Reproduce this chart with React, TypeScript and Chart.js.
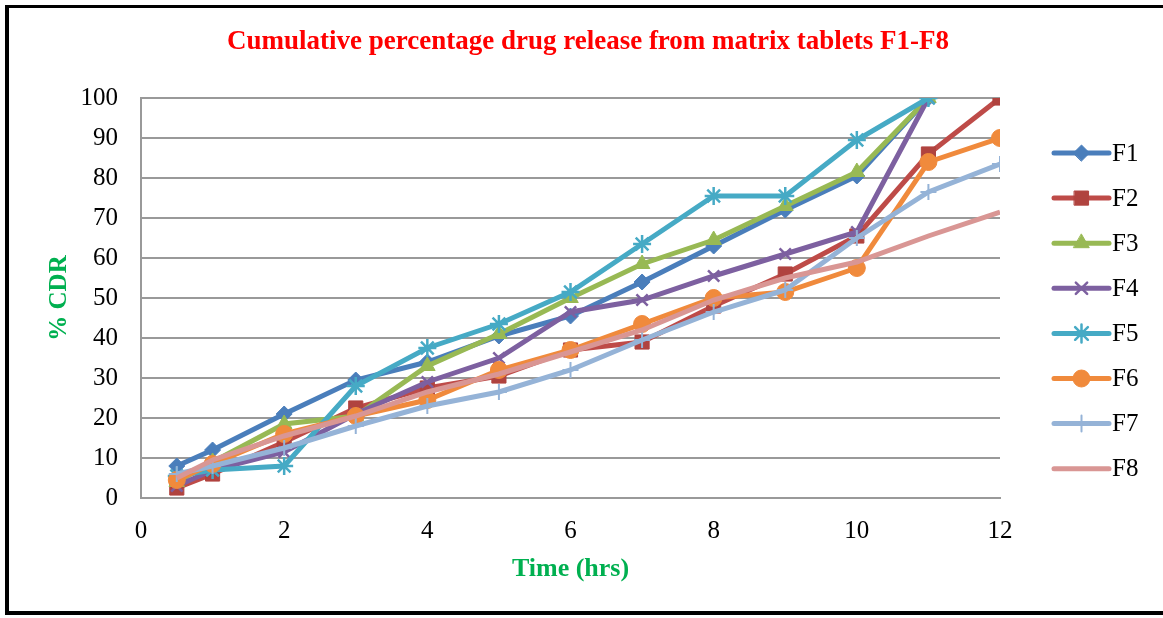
import React, { useEffect, useRef } from "react";
import { Chart, registerables } from "chart.js";
import { drawPoint } from "chart.js/helpers";

Chart.register(...registerables);

// Sampling times (hours)
const times = [0.5, 1, 2, 3, 4, 5, 6, 7, 8, 9, 10, 11, 12];

// Cumulative % drug release per formulation
const f1 = [8, 12, 21, 29.5, 34, 40.5, 45.5, 54, 63, 72, 80.5, 100];
const f2 = [2.5, 6, 14, 22.5, 27.5, 30.5, 37, 39, 48, 56, 65.5, 86, 100];
const f3 = [4, 9, 18.5, 20.5, 33, 41, 50, 58.5, 64.5, 73, 81.5, 100];
const f4 = [3, 7, 11.5, 21, 29, 35, 46.5, 49.5, 55.5, 61, 66.5, 100];
const f5 = [5.5, 7, 8, 28, 37.5, 43.5, 51.5, 63.5, 75.5, 75.5, 89.5, 100];
const f6 = [4.5, 8.5, 16, 20.5, 24.5, 32, 37, 43.5, 50, 51.5, 57.5, 84, 90];
const f7 = [6, 8, 12.5, 18, 23, 26.5, 32, 39.5, 46.5, 52, 65, 76.5, 83.5];
const f8 = [5, 9.5, 15.5, 20.5, 26.5, 31, 36.5, 42, 49.5, 55, 59, 65.5, 71.5];

const seriesNames = ["F1", "F2", "F3", "F4", "F5", "F6", "F7", "F8"];
const seriesValues = [f1, f2, f3, f4, f5, f6, f7, f8];

const seriesColors = ["#4A7EBB", "#BE4B48", "#98B954", "#7D60A0", "#46AAC5", "#F08A3C", "#95B3D7", "#D99694"];
const markerColors = ["#4A7EBB", "#B0433F", "#98B954", "#7D60A0", "#46AAC5", "#F08A3C", "#95B3D7", "#D99694"];
const markerStyles = ["rectRot", "rect", "triangle", "crossRot", "star", "circle", "cross", "circle"];
const markerRadii = [8, 10, 9, 8, 9, 8.5, 8, 0];
const markerBorders = [1, 1, 1, 2.5, 2.5, 1, 2, 0];

const chartTitle = "Cumulative percentage drug release from matrix tablets F1-F8";
const xTitle = "Time (hrs)";
const yTitle = "% CDR";

const SERIF = "'Liberation Serif', 'Times New Roman', serif";

// Title across the top of the framed area
const topTitle = {
  id: "topTitle",
  afterDraw(chart: any) {
    const { ctx } = chart;
    ctx.save();
    ctx.fillStyle = "#FF0000";
    ctx.font = `bold 27px ${SERIF}`;
    ctx.textAlign = "center";
    ctx.textBaseline = "middle";
    ctx.fillText(chartTitle, (chart.width + 13) / 2, 42);
    ctx.restore();
  },
};

// Legend on the right: a line sample with the series marker, then the name
const sideLegend = {
  id: "sideLegend",
  afterDraw(chart: any) {
    const { ctx, chartArea } = chart;
    const x0 = chartArea.right + 54;
    const x1 = chartArea.right + 109;
    const top = chartArea.top + 55;
    const step = 45.1;
    chart.data.datasets.forEach((ds: any, i: number) => {
      const y = top + i * step;
      ctx.save();
      ctx.strokeStyle = ds.borderColor;
      ctx.lineWidth = 5;
      ctx.lineCap = "round";
      ctx.beginPath();
      ctx.moveTo(x0, y);
      ctx.lineTo(x1, y);
      ctx.stroke();
      if (ds.pointRadius > 0) {
        ctx.fillStyle = ds.pointBackgroundColor;
        ctx.strokeStyle = ds.pointBorderColor;
        ctx.lineWidth = ds.pointBorderWidth;
        drawPoint(
          ctx,
          { pointStyle: ds.pointStyle, radius: ds.pointRadius, borderWidth: ds.pointBorderWidth, rotation: 0 },
          (x0 + x1) / 2,
          y
        );
      }
      ctx.fillStyle = "#000";
      ctx.font = `25px ${SERIF}`;
      ctx.textAlign = "left";
      ctx.textBaseline = "middle";
      ctx.fillText(ds.label, x1 + 3, y + 1);
      ctx.restore();
    });
  },
};

export default function App() {
  const canvasRef = useRef<HTMLCanvasElement | null>(null);

  useEffect(() => {
    if (!canvasRef.current) return;
    const datasets = seriesNames.map((name, i) => ({
      label: name,
      data: seriesValues[i].map((v, j) => ({ x: times[j], y: v })),
      borderColor: seriesColors[i],
      backgroundColor: seriesColors[i],
      borderWidth: 5,
      pointStyle: markerStyles[i],
      pointRadius: markerRadii[i],
      pointBackgroundColor: markerColors[i],
      pointBorderColor: markerColors[i],
      pointBorderWidth: markerBorders[i],
      tension: 0,
      fill: false,
      order: seriesNames.length - i,
    }));

    const chart = new Chart(canvasRef.current, {
      type: "line",
      data: { datasets },
      plugins: [topTitle, sideLegend],
      options: {
        responsive: false,
        animation: false,
        layout: { padding: { left: 10, right: 163, top: 98, bottom: 0 } },
        plugins: {
          legend: { display: false },
          tooltip: { enabled: false },
          title: { display: false },
        },
        scales: {
          x: {
            type: "linear",
            min: 0,
            max: 12,
            afterFit(scale: any) {
              scale.height = 120;
            },
            ticks: {
              stepSize: 2,
              color: "#000",
              font: { family: SERIF, size: 25 },
              padding: 18,
            },
            grid: { display: false, drawTicks: false, tickLength: 0 },
            border: { display: true, color: "#999999", width: 2 },
            title: {
              display: true,
              text: xTitle,
              color: "#00B050",
              font: { family: SERIF, size: 26, weight: "bold", lineHeight: 1.2 },
              padding: { top: 0, bottom: 33 },
            },
          },
          y: {
            min: 0,
            max: 100,
            afterFit(scale: any) {
              scale.width = 131;
            },
            ticks: {
              stepSize: 10,
              color: "#000",
              font: { family: SERIF, size: 25 },
              padding: 23,
            },
            grid: { color: "#999999", lineWidth: 2, drawTicks: false, tickLength: 0 },
            border: { display: true, color: "#999999", width: 2 },
            title: {
              display: true,
              text: yTitle,
              color: "#00B050",
              font: { family: SERIF, size: 25, weight: "bold", lineHeight: 1.2 },
              padding: { top: 35, bottom: 0 },
            },
          },
        },
      },
    } as any);

    return () => chart.destroy();
  }, []);

  return (
    <div style={{ position: "fixed", left: 0, top: 0, width: 1163, height: 618, overflow: "hidden", background: "#fff" }}>
      <canvas ref={canvasRef} width={1163} height={618} style={{ position: "absolute", left: 0, top: 0 }} />
      <div
        style={{
          position: "absolute",
          left: 5,
          top: 5,
          right: -20,
          bottom: 3,
          borderStyle: "solid",
          borderColor: "#000",
          borderLeftWidth: 4,
          borderTopWidth: 3,
          borderBottomWidth: 4,
          borderRightWidth: 4,
          pointerEvents: "none",
        }}
      />
    </div>
  );
}
